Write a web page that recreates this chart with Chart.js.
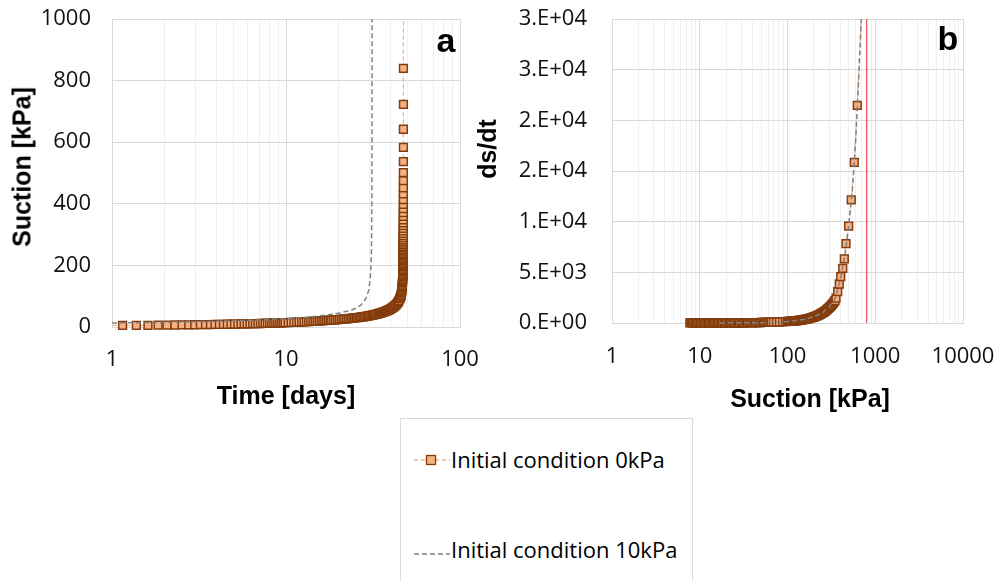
<!DOCTYPE html>
<html>
<head>
<meta charset="utf-8">
<script src="https://cdn.jsdelivr.net/npm/chart.js@4.4.1/dist/chart.umd.min.js"></script>
<style>
  body { margin: 0; background: #fff; width: 997px; height: 581px; overflow: hidden; position: relative; }
  canvas { position: absolute; top: 0; }
  #chartA { left: 0; }
  #chartB { left: 480px; }
  .title { position: absolute; font: bold 25px "Liberation Sans", Arial, sans-serif; color: #000; white-space: nowrap; transform: translate(-50%, -50%); }
  .rot { transform: translate(-50%, -50%) rotate(-90deg); }
  .panel { position: absolute; font: bold 34px/1 "Liberation Sans", Arial, sans-serif; color: #000; transform: translateX(-50%); }
  #legend { position: absolute; left: 400px; top: 418px; width: 293px; height: 200px; border: 1px solid #d9d9d9; box-sizing: border-box; }
  .entry { position: absolute; left: 50px; font: 22px/1 "Open Sans", sans-serif; color: #000; white-space: nowrap; }
  .sym { position: absolute; left: 12px; }
</style>
</head>
<body>
<canvas id="chartA" width="480" height="410"></canvas>
<canvas id="chartB" width="517" height="410"></canvas>

<div class="title rot" style="left:22px; top:167px;">Suction [kPa]</div>
<div class="title" style="left:286px; top:395px;">Time [days]</div>
<div class="title rot" style="left:487px; top:149px;">ds/dt</div>
<div class="title" style="left:810px; top:398px;">Suction [kPa]</div>
<div class="panel" style="left:446px; top:23px;">a</div>
<div class="panel" style="left:948px; top:21px;">b</div>

<div id="legend">
  <svg class="sym" style="top:34px" width="38" height="14">
    <line x1="1" y1="7" x2="37" y2="7" stroke="#f4b183" stroke-width="1.5" stroke-dasharray="4 3"/>
    <rect x="13.5" y="2.5" width="9" height="9" fill="#f4b183" stroke="#843c0c" stroke-width="1.3"/>
  </svg>
  <div class="entry" style="top:29px;">Initial condition 0kPa</div>
  <svg class="sym" style="top:128px" width="38" height="14">
    <line x1="1" y1="7" x2="37" y2="7" stroke="#808080" stroke-width="1.5" stroke-dasharray="5 3"/>
  </svg>
  <div class="entry" style="top:119px;">Initial condition 10kPa</div>
</div>

<script>
// Panel a - suction [kPa] against time [days]
const time0 = [0.92, 1.15, 1.38, 1.61, 1.84, 2.07, 2.30, 2.53, 2.76, 2.99, 3.22, 3.45, 3.68, 3.91, 4.14, 4.37, 4.60, 4.83,
  5.06, 5.29, 5.52, 5.75, 5.98, 6.21, 6.44, 6.67, 6.90, 7.13, 7.36, 7.59, 7.82, 8.05, 8.28, 8.51, 8.74, 8.97, 9.20, 9.43, 9.66, 9.89,
  10.3, 10.7, 11.1, 11.5, 11.9, 12.3, 12.7, 13.1, 13.5, 13.9, 14.3, 14.7, 15.1, 15.5, 15.9, 16.3, 16.7, 17.1, 17.5, 17.9, 18.3,
  18.8, 19.3, 19.8, 20.3, 20.8, 21.3, 21.8, 22.3, 22.8, 23.3, 23.8, 24.3, 24.8, 25.3, 25.8, 26.3, 26.8, 27.3, 27.8, 28.3, 28.8,
  29.3, 29.8, 30.3, 30.8, 31.3, 31.8, 32.3, 32.8, 33.3, 33.8, 34.3, 34.8, 35.3, 35.8, 36.3, 36.8, 37.3, 37.8, 38.3, 38.8, 39.3,
  39.8, 40.3, 40.8, 41.3, 41.8, 42.3, 42.8, 43.3, 43.8, 44.2, 44.6, 45.0,
  45.3, 45.5, 45.7, 45.85, 46.0, 46.1, 46.2, 46.3, 46.38, 46.45, 46.52, 46.58, 46.64, 46.69, 46.74, 46.78, 46.82, 46.85, 46.88,
  46.91, 46.93, 46.95, 46.97, 46.99, 47.01, 47.03, 47.04, 47.05, 47.06, 47.07, 47.08, 47.09, 47.10, 47.11, 47.12, 47.12, 47.13,
  47.14, 47.14, 47.15, 47.15, 47.16, 47.16, 47.17, 47.17, 47.18, 47.18, 47.19, 47.19, 47.20, 47.20, 47.21, 47.21, 47.22, 47.22,
  47.23, 47.23, 47.24, 47.24, 47.25, 47.25, 47.26, 47.26, 47.27, 47.27, 47.28, 47.28, 47.29, 47.29, 47.30];
const suction0 = [5, 5, 5.3, 5.6, 5.9, 6.2, 6.5, 6.8, 7.0, 7.3, 7.5, 7.8, 8.0, 8.2, 8.5, 8.7, 8.9, 9.1,
  9.4, 9.6, 9.8, 10.0, 10.2, 10.5, 10.7, 10.9, 11.1, 11.4, 11.6, 11.8, 12.0, 12.3, 12.5, 12.7, 12.9, 13.2, 13.4, 13.6, 13.9, 14.1,
  14.5, 14.9, 15.3, 15.7, 16.1, 16.5, 16.9, 17.3, 17.7, 18.1, 18.5, 18.9, 19.3, 19.7, 20.1, 20.5, 20.9, 21.3, 21.7, 22.1, 22.5,
  23.0, 23.5, 24.0, 24.5, 25.0, 25.6, 26.1, 26.6, 27.2, 27.7, 28.3, 28.9, 29.5, 30.1, 30.7, 31.3, 32.0, 32.6, 33.3, 34.0, 34.7,
  35.4, 36.1, 36.9, 37.7, 38.5, 39.3, 40.2, 41.1, 42.0, 43.0, 44.0, 45.0, 46.1, 47.2, 48.4, 49.6, 50.9, 52.2, 53.6, 55.1, 56.7,
  58.4, 60.2, 62.1, 64.2, 66.5, 69.0, 71.8, 74.9, 78.4, 82.0, 86.0, 91.0,
  94, 97, 100, 103, 107, 111, 115, 119, 123, 127, 131, 135, 139, 143, 147, 151, 155, 159, 163,
  167, 171, 175, 179, 183, 187, 191, 195, 199, 203, 207, 211, 215, 219, 223, 227, 231, 235,
  239, 243, 247, 252, 257, 262, 267, 272, 278, 284, 290, 297, 304, 312, 320, 329, 338, 348,
  359, 371, 384, 398, 414, 432, 452, 475, 501, 537, 583, 642, 723, 840, 1100];
const time10 = [1, 2, 3, 4, 5, 6, 7, 8, 10, 12, 14, 16, 18, 20, 22, 24, 25.5, 27, 28, 29, 29.8, 30.4, 30.75, 31.0, 31.1, 31.2, 31.25];
const suction10 = [13, 15, 17, 18.5, 20, 21.5, 23, 24.5, 27, 30, 33, 37, 41, 45, 50, 56, 62, 72, 82, 97, 118, 150, 190, 250, 350, 600, 1100];

// Panel b - ds/dt against suction [kPa]
const suctionB0 = [7.7, 7.97, 8.25, 8.54, 8.84, 9.15, 9.47, 9.8, 10.1, 10.5, 10.9, 11.3, 11.7, 12.1, 12.5, 12.9, 13.4, 13.8,
  14.3, 14.8, 15.3, 15.9, 16.4, 17.0, 17.6, 18.2, 18.9, 19.5, 20.2, 20.9, 21.7, 22.4, 23.2, 24.0, 24.9, 25.7, 26.6, 27.6, 28.5,
  29.5, 30.6, 31.6, 32.7, 33.9, 35.1, 36.3, 37.6, 38.9, 40.3, 41.7, 43.1, 44.6, 46.2, 47.8, 49.5, 51.2, 53.0, 54.9, 56.8, 58.8,
  60.8, 63.0, 65.2,
  69, 75, 81, 88, 95,
  100, 102.5, 105, 108, 111, 114, 117, 120, 123, 126, 129, 132, 136, 140, 144, 148, 152, 156, 160, 164, 168, 173, 178, 183,
  188, 193, 198, 203, 208, 214, 220, 226, 232, 238, 244, 250, 257, 264, 271, 278, 285, 292, 300, 308, 316, 324, 332, 340, 348,
  357, 373, 389, 404, 426, 444, 464, 498, 533, 577, 624, 720, 840];
const rateB0 = [3, 3, 3, 3, 4, 4, 4, 4, 4, 5, 5, 5, 5, 6, 6, 6, 7, 7,
  7, 8, 8, 9, 9, 10, 10, 11, 11, 12, 12, 13, 14, 15, 15, 16, 17, 18, 19, 20, 21,
  22, 24, 25, 26, 28, 29, 31, 33, 34, 36, 38, 40, 42, 45, 47, 49, 52, 55, 57, 60, 63,
  66, 70, 73,
  80, 88, 100, 115, 130,
  150, 155, 162, 170, 178, 186, 195, 205, 215, 225, 236, 247, 262, 278, 295, 312, 330, 348, 367, 387, 408, 435, 463, 492,
  522, 553, 585, 618, 652, 695, 740, 787, 836, 887, 940, 995, 1062, 1132, 1205, 1281, 1360, 1442, 1540, 1642, 1748, 1858, 1972, 2090, 2212,
  2450, 3100, 3850, 4570, 5400, 6320, 7830, 9570, 12140, 15860, 21480, 33000, 50000];
const suctionB10 = [17, 25, 35, 50, 65, 80, 100, 130, 160, 200, 250, 300, 350, 400, 450, 500, 550, 600, 650, 700, 750];
const rateB10 = [10, 15, 22, 35, 55, 90, 150, 250, 380, 640, 1000, 1650, 2400, 4300, 6600, 9700, 13300, 18200, 24500, 31000, 38000];
const limitSuction = [800, 800];
const limitRate = [0, 30000];

// axes
const xTicksA = [1, 10, 100];
const yTicksA = [0, 200, 400, 600, 800, 1000];
const xTicksB = [1, 10, 100, 1000, 10000];
const yTickLabelsB = ["0.E+00", "5.E+03", "1.E+04", "2.E+04", "2.E+04", "3.E+04", "3.E+04"];

const orange = "#f4b183";
const brown = "#843c0c";
const gray = "#808080";
const tickFont = { family: "'Open Sans'", size: 22 };
const clipArea = { left: 0, top: 0, right: 0, bottom: 8 };

function pts(xs, ys) {
  return xs.map((x, i) => ({ x: x, y: ys[i] }));
}

// log axis with Excel-like minor grid (2..9 per decade)
// label gap is made with an invisible tick mark so it doesn't shrink the plot area
function logAxis(majors, gap, height) {
  return {
    type: "logarithmic",
    min: majors[0],
    max: majors[majors.length - 1],
    afterBuildTicks: (scale) => {
      const ticks = [];
      majors.forEach((m, i) => {
        if (i === majors.length - 1) {
          ticks.push({ value: m });
          return;
        }
        for (let k = 1; k < 10; k++) ticks.push({ value: m * k });
      });
      scale.ticks = ticks;
    },
    afterFit: (scale) => {
      scale.height = height;
    },
    ticks: {
      autoSkip: false,
      maxRotation: 0,
      padding: 0,
      color: "#111",
      font: tickFont,
      callback: (v) => (majors.includes(v) ? String(v) : ""),
    },
    grid: {
      drawTicks: true,
      tickLength: gap,
      tickColor: "rgba(0,0,0,0)",
      color: (c) => (c.tick && majors.includes(c.tick.value) ? "#d9d9d9" : "#f0f0f0"),
    },
    border: { color: "#d9d9d9" },
  };
}

function linAxis(min, max, step, gap, width, labelFn) {
  return {
    min: min,
    max: max,
    afterFit: (scale) => {
      scale.width = width;
    },
    ticks: { stepSize: step, padding: 0, color: "#111", font: tickFont, callback: labelFn },
    grid: { drawTicks: true, tickLength: gap, tickColor: "rgba(0,0,0,0)", color: "#d9d9d9" },
    border: { color: "#d9d9d9" },
  };
}

const common = {
  responsive: false,
  animation: false,
  events: [],
  plugins: { legend: { display: false }, tooltip: { enabled: false } },
};

const markerStyle = {
  showLine: true,
  borderColor: orange,
  borderWidth: 1.3,
  borderDash: [4, 3],
  pointStyle: "rect",
  pointRadius: 5.5,
  pointBackgroundColor: orange,
  pointBorderColor: brown,
  pointBorderWidth: 1.5,
  order: 1,
  clip: clipArea,
};

const grayStyle = {
  showLine: true,
  borderColor: gray,
  borderWidth: 1.5,
  borderDash: [5, 3],
  pointRadius: 0,
  order: 0,
  clip: clipArea,
};

new Chart(document.getElementById("chartA"), {
  type: "scatter",
  data: {
    datasets: [
      Object.assign({ label: "Initial condition 0kPa", data: pts(time0, suction0) }, markerStyle),
      Object.assign({ label: "Initial condition 10kPa", data: pts(time10, suction10) }, grayStyle),
    ],
  },
  options: Object.assign({}, common, {
    layout: { padding: { top: 19, right: 20, left: 0, bottom: 0 } },
    scales: {
      x: logAxis(xTicksA, 20, 83),
      y: linAxis(yTicksA[0], yTicksA[yTicksA.length - 1], 200, 21, 112, (v) => String(v)),
    },
  }),
});

new Chart(document.getElementById("chartB"), {
  type: "scatter",
  data: {
    datasets: [
      Object.assign({ label: "Initial condition 0kPa", data: pts(suctionB0, rateB0) }, markerStyle),
      Object.assign({ label: "Initial condition 10kPa", data: pts(suctionB10, rateB10) }, grayStyle),
      {
        label: "limit",
        data: pts(limitSuction, limitRate),
        showLine: true,
        borderColor: "#e8262a",
        borderWidth: 1,
        pointRadius: 0,
        order: 2,
      },
    ],
  },
  options: Object.assign({}, common, {
    layout: { padding: { top: 19, right: 34, left: 0, bottom: 0 } },
    scales: {
      x: logAxis(xTicksB, 21, 87),
      y: linAxis(0, 30000, 5000, 25, 132, (v) => yTickLabelsB[Math.round(v / 5000)]),
    },
  }),
});
</script>
</body>
</html>
